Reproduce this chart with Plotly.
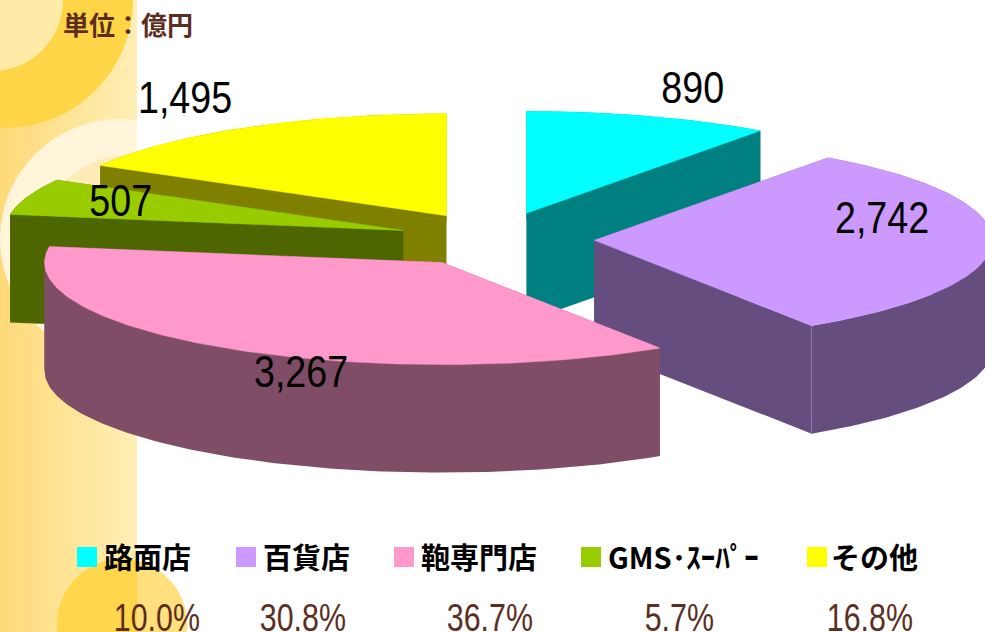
import numpy as np
import plotly.graph_objects as go

# ---- data ----
categories = ["路面店", "百貨店", "鞄専門店", "GMS･ｽｰﾊﾟｰ", "その他"]
values = [890, 2742, 3267, 507, 1495]
value_labels = ["890", "2,742", "3,267", "507", "1,495"]
share_labels = ["10.0%", "30.8%", "36.7%", "5.7%", "16.8%"]
unit_label = "単位：億円"

# ---- style ----
top_colors = ["#00FFFF", "#CC99FF", "#FF99CC", "#99CC00", "#FFFF00"]
side_colors = ["#008080", "#664D80", "#804D66", "#4D6600", "#808000"]
BROWN = "#5C2E22"
CJK = "Noto Sans CJK JP"
LATIN = "Liberation Sans, " + CJK

# ---- pie projection ----
CX, CY, RX, RY, DEPTH, EXPLODE_X, EXPLODE_Y = 496, 239.5, 398, 102, 108, 0.247, 0.27
value_xy = [(692, 87), (882, 217), (301, 371), (120, 200), (185, 97)]
legend_x = [77, 236, 394, 581, 807]
legend_text_x = [102, 261, 419, 606, 829]
share_center = [156.5, 303, 490, 679, 870]
LEG_Y, SHARE_Y = 557, 618

total = sum(values)
edges = np.cumsum([0] + values) / total * 2 * np.pi
draw_order = [0, 1, 4, 3, 2]

fig = go.Figure()


def poly(x, y, color, width=0.0):
    fig.add_trace(go.Scatter(
        x=list(x) + [x[0]], y=list(y) + [y[0]], mode="lines", fill="toself",
        fillcolor=color, line=dict(color=color, width=width),
        hoverinfo="skip", showlegend=False))


for i in draw_order:
    t0, t1 = edges[i], edges[i + 1]
    mid = (t0 + t1) / 2
    ax = CX + EXPLODE_X * RX * np.sin(mid)
    ay = CY - EXPLODE_Y * RY * np.cos(mid)
    th = np.linspace(t0, t1, int(np.degrees(t1 - t0)) + 2)
    ex, ey = ax + RX * np.sin(th), ay - RY * np.cos(th)
    # rim split where the ellipse turns horizontally, then the two cut faces, then the top
    cuts = [t0] + [c for c in (np.pi / 2, 3 * np.pi / 2) if t0 < c < t1] + [t1]
    for c0, c1 in zip(cuts[:-1], cuts[1:]):
        tt = np.linspace(c0, c1, int(np.degrees(c1 - c0)) + 2)
        rx, ry = ax + RX * np.sin(tt), ay - RY * np.cos(tt)
        poly(np.r_[rx, rx[::-1]], np.r_[ry, ry[::-1] + DEPTH], side_colors[i])
    for e_x, e_y in ((ex[0], ey[0]), (ex[-1], ey[-1])):
        poly([ax, e_x, e_x, ax], [ay, e_y, e_y + DEPTH, ay + DEPTH], side_colors[i])
    if i == 1:  # faint edge between the cut face and the rim
        fig.add_trace(go.Scatter(x=[ex[-1], ex[-1]], y=[ey[-1], ey[-1] + DEPTH], mode="lines",
                                 line=dict(color="#8A76A0", width=1), hoverinfo="skip", showlegend=False))
    poly(np.r_[ax, ex], np.r_[ay, ey], top_colors[i], 0.5)

# legend swatches
fig.add_trace(go.Scatter(
    x=[x + 10 for x in legend_x], y=[LEG_Y] * 5, mode="markers",
    marker=dict(symbol="square", size=20, color=top_colors, line=dict(width=0)),
    hoverinfo="skip", showlegend=False))

# ---- background decoration ----
shapes = []
N = 40
BAND = 137
for k in range(N):
    f = k / (N - 1)
    c = "rgb(255,%d,%d)" % (218 + 21 * f, 122 + 58 * f)
    shapes.append(dict(type="rect", x0=BAND * k / N, x1=BAND * (k + 1) / N + 0.5, y0=0, y1=632,
                       fillcolor=c, line_width=0, layer="below"))


def circle(cx, cy, r, color):
    return dict(type="circle", x0=cx - r, x1=cx + r, y0=cy - r, y1=cy + r,
                fillcolor=color, line_width=0, layer="below")


shapes += [
    circle(5, 0, 128, "#FFD548"),
    circle(-8, 0, 71, "#FFEBA8"),
    circle(120, 239, 120, "#FFF5DA"),
    circle(125, 240, 84, "#FDEBB8"),
    dict(type="rect", x0=BAND, x1=985, y0=0, y1=632, fillcolor="white", line_width=0, layer="below"),
    circle(122, 624, 65, "#FFE07C"),
]
a = np.linspace(np.arccos(15 / 65), 2 * np.pi - np.arccos(15 / 65), 80)
px, py = 122 + 65 * np.cos(a), 624 + 65 * np.sin(a)
shapes.append(dict(type="path",
                   path="M " + " L ".join("%.1f %.1f" % p for p in zip(px, py)) + " Z",
                   fillcolor="#FFD64C", line_width=0, layer="below"))

# ---- texts ----
ann = [dict(x=61, y=23, text="<b>%s</b>" % unit_label, xanchor="left", yanchor="middle", showarrow=False,
            font=dict(family=CJK, size=26, color=BROWN))]
for (x, y), t in zip(value_xy, value_labels):
    ann.append(dict(x=x, y=y, text=t, xanchor="center", yanchor="middle", showarrow=False,
                    font=dict(family=LATIN, size=44, color="black")))
for x, c in zip(legend_text_x, categories):
    ann.append(dict(x=x, y=LEG_Y - 1, text="<b>%s</b>" % c, xanchor="left", yanchor="middle", showarrow=False,
                    font=dict(family=CJK, size=29, color="black")))
for x, s in zip(share_center, share_labels):
    ann.append(dict(x=x, y=SHARE_Y, text=s, xanchor="center", yanchor="middle", showarrow=False,
                    font=dict(family=LATIN, size=38, color=BROWN)))

fig.update_layout(
    width=985, height=632, margin=dict(l=0, r=0, t=0, b=0),
    paper_bgcolor="white", plot_bgcolor="rgba(0,0,0,0)",
    xaxis=dict(range=[0, 985], visible=False, fixedrange=True),
    yaxis=dict(range=[632, 0], visible=False, fixedrange=True),
    shapes=shapes, annotations=ann, showlegend=False)

# the reference sets its numbers in a condensed face: narrow them horizontally
post = """
document.body.style.margin='0';document.body.style.overflow='hidden';
function narrow(){
document.querySelectorAll('.annotation-text').forEach(function(t){
  var s=t.textContent;
  if(/^[0-9,.]+%?$/.test(s)){
    var f=s.endsWith('%')?0.80:0.855;
    t.setAttribute('textLength',t.getComputedTextLength()*f);
    t.setAttribute('lengthAdjust','spacingAndGlyphs');
  }
});}
narrow();
"""
fig.write_html("out.html", config=dict(displayModeBar=False), post_script=post)
